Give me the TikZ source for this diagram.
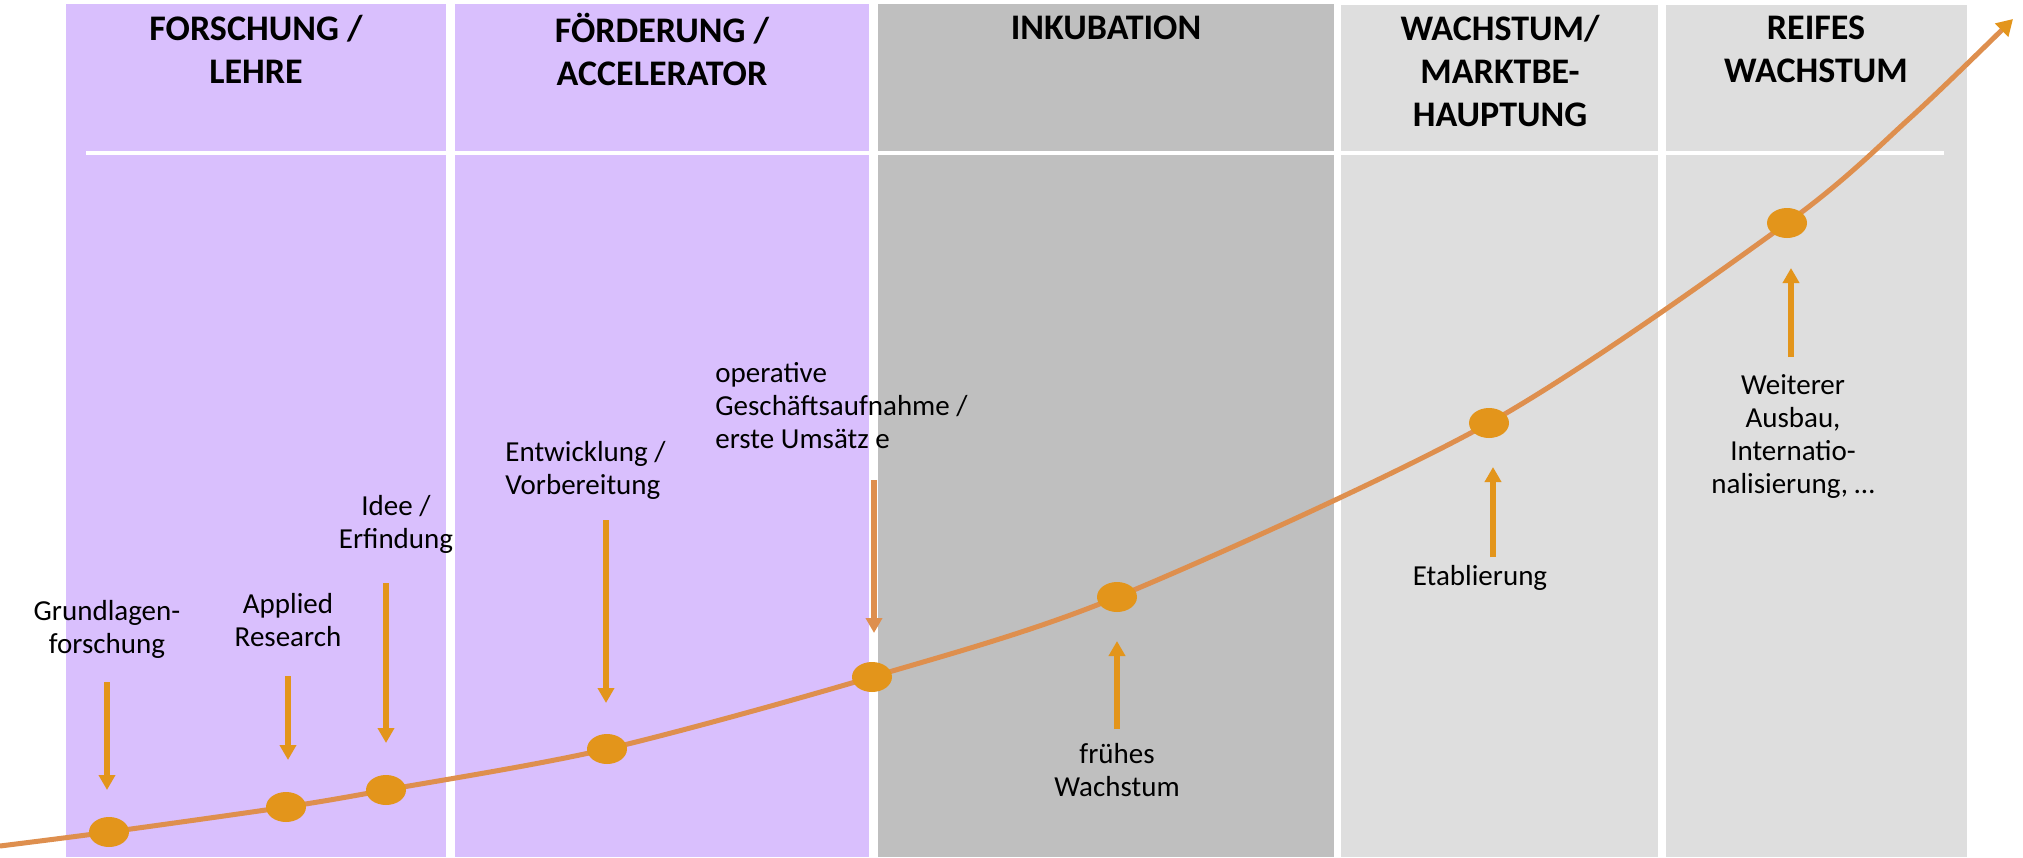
\documentclass[tikz,border=0pt]{standalone}
\usepackage{fontspec}
\setmainfont{Carlito}
\usetikzlibrary{arrows.meta,shapes.geometric}
\definecolor{lav}{HTML}{D9BFFD}
\definecolor{dgray}{HTML}{BFBFBF}
\definecolor{lgray}{HTML}{DEDEDE}
\definecolor{curvec}{HTML}{DE8F4E}
\definecolor{gold}{HTML}{E3951B}
\begin{document}
\begin{tikzpicture}[x=0.5pt,y=-0.5pt,
  title/.style={font=\fontsize{18pt}{21.5pt}\selectfont\bfseries, align=center, inner sep=0pt},
  lbl/.style={font=\fontsize{14.5pt}{16.5pt}\selectfont, inner sep=0pt},
  dot/.style={ellipse, fill=gold, minimum width=20pt, minimum height=15pt, inner sep=0pt},
  pointer/.style={draw=gold, line width=2.6pt, -{Triangle[width=8pt,length=7.5pt]}},
  curveline/.style={draw=curvec, line width=2.5pt}
]
\useasboundingbox (0,0) rectangle (2023,857);
% panels
\fill[lav]   (66,4)   rectangle (446,857);
\fill[lav]   (455,4)  rectangle (869,857);
\fill[dgray] (878,4)  rectangle (1334,857);
\fill[lgray] (1341,5) rectangle (1658,857);
\fill[lgray] (1666,5) rectangle (1967,857);
\draw[white, line width=1.6pt] (86,153) -- (1944,153);
% titles
\node[title] (t1) at (256,49)  {FORSCHUNG /\\LEHRE};
\node[title] (t2) at (662,49)  {FÖRDERUNG /\\ACCELERATOR};
\node[title] (t3) at (1106,28) {INKUBATION};
\node[title] (t4) at (1500,71) {WACHSTUM/\\MARKTBE-\\HAUPTUNG};
\node[title] (t5) at (1816,49) {REIFES\\WACHSTUM};
% curve points
\coordinate (c0) at (0,846);
\coordinate (d1c) at (109,832);
\coordinate (d2c) at (286,807);
\coordinate (d3c) at (386,790);
\coordinate (d4c) at (607,749);
\coordinate (d5c) at (872,677);
\coordinate (d6c) at (1117,597);
\coordinate (d7c) at (1489,423);
\coordinate (d8c) at (1787,223);
\coordinate (c9) at (1910,118);
\coordinate (c10) at (2013,19);
\draw[curveline, -{Triangle[width=9pt,length=8pt,color=gold]}] plot[smooth, tension=0.5] coordinates {(c0) (d1c) (d2c) (d3c) (d4c) (d5c) (d6c) (d7c) (d8c) (c9) (c10)};
% dots
\foreach \i in {1,...,8} { \node[dot] (d\i) at (d\i c) {}; }
% labels
\node[lbl, align=center] (l1) at (107,629) {Grundlagen-\\forschung};
\node[lbl, align=center] (l2) at (288,620) {Applied\\Research};
\node[lbl, align=center] (l3) at (396,524) {Idee /\\Erfindung};
\node[lbl, align=left, anchor=west] (l4) at (505,470) {Entwicklung /\\Vorbereitung};
\node[lbl, align=left, anchor=west] (l5) at (715,406) {operative\\Geschäftsaufnahme /\\erste Umsätz e};
\node[lbl, align=center] (l6) at (1117,770) {frühes\\Wachstum};
\node[lbl, align=center] (l7) at (1480,578) {Etablierung};
\node[lbl, align=center] (l8) at (1793,437) {Weiterer\\Ausbau,\\Internatio-\\nalisierung, …};
% arrows
\coordinate (a1s) at (107,682); \coordinate (a1e) at (107,790);
\coordinate (a2s) at (288,676); \coordinate (a2e) at (288,760);
\coordinate (a3s) at (386,583); \coordinate (a3e) at (386,743);
\coordinate (a4s) at (606,520); \coordinate (a4e) at (606,703);
\coordinate (a5s) at (874,480); \coordinate (a5e) at (874,633);
\coordinate (a6s) at (1117,729); \coordinate (a6e) at (1117,641);
\coordinate (a7s) at (1493,557); \coordinate (a7e) at (1493,467);
\coordinate (a8s) at (1791,357); \coordinate (a8e) at (1791,268);
\draw[pointer] (a1s) -- (a1e);
\draw[pointer] (a2s) -- (a2e);
\draw[pointer] (a3s) -- (a3e);
\draw[pointer] (a4s) -- (a4e);
\draw[pointer, draw=curvec, -{Triangle[width=8pt,length=7.5pt,color=curvec]}] (a5s) -- (a5e);
\draw[pointer] (a6s) -- (a6e);
\draw[pointer] (a7s) -- (a7e);
\draw[pointer] (a8s) -- (a8e);
\end{tikzpicture}
\end{document}
